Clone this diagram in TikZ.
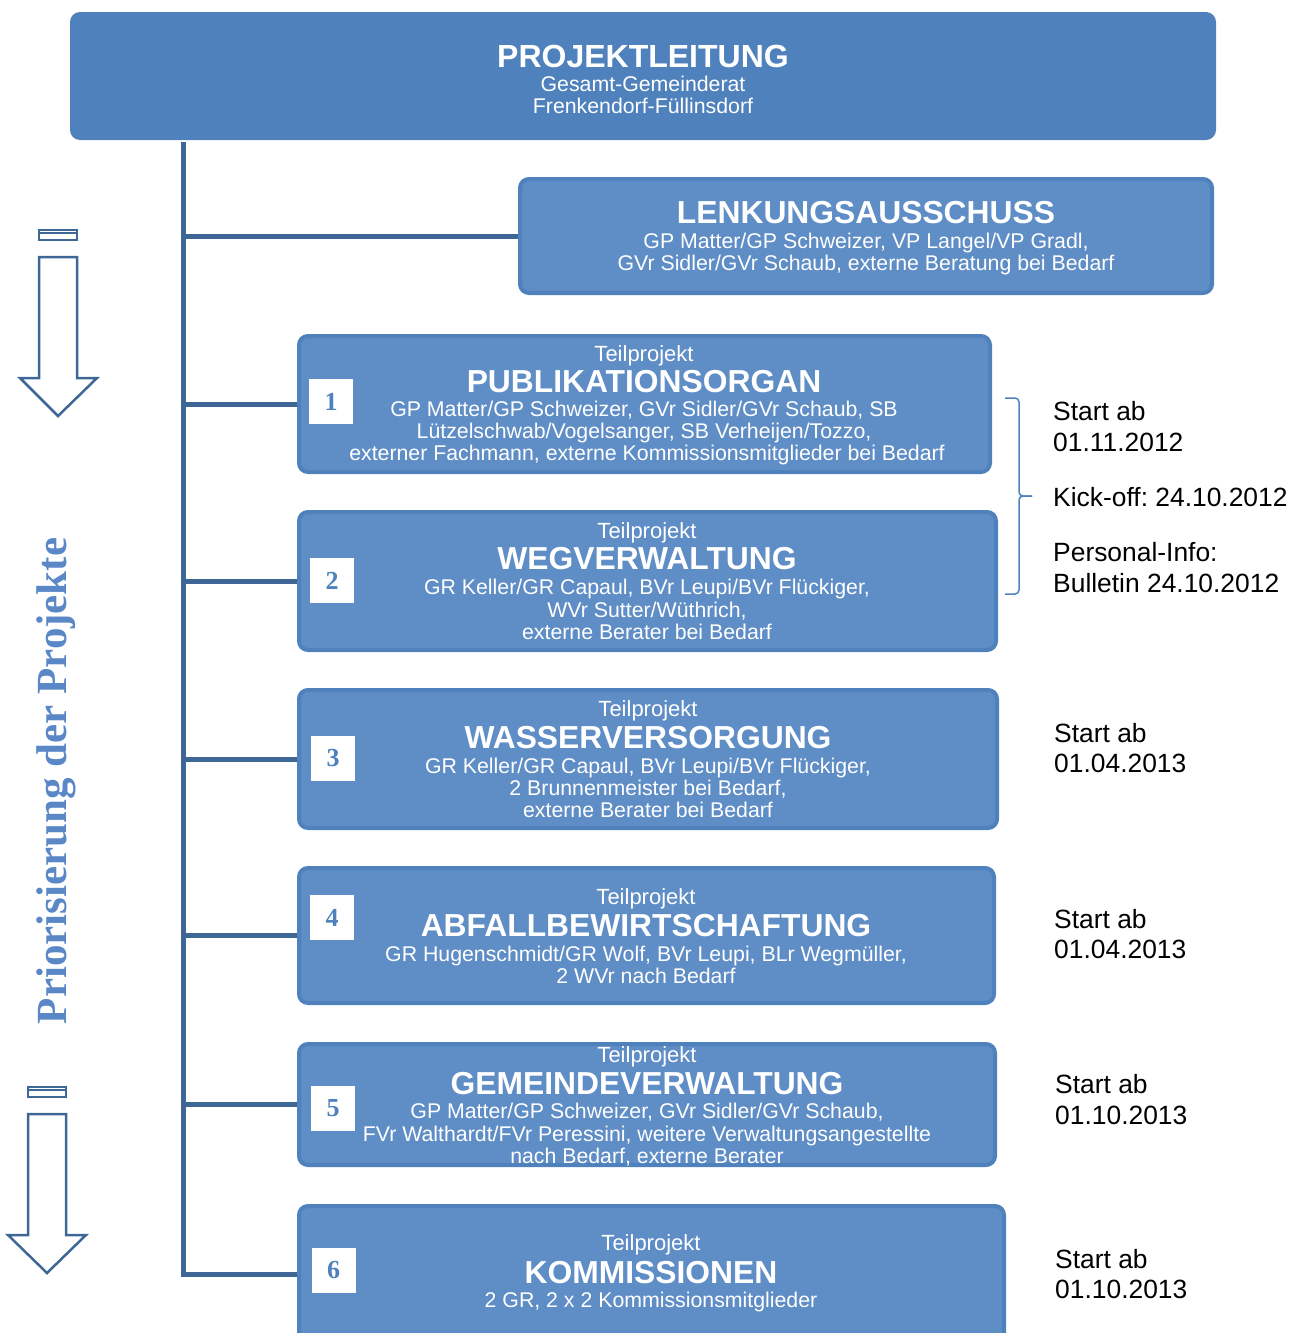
\documentclass[tikz,border=0pt]{standalone}
\usepackage{fontspec}
\setmainfont{Liberation Sans}
\newfontfamily\numfont{Liberation Serif}
\definecolor{plfill}{HTML}{4F81BD}
\definecolor{boxfill}{HTML}{5F8DC6}
\definecolor{boxedge}{HTML}{4F81BD}
\definecolor{trunkc}{HTML}{3E6797}
\definecolor{vtext}{HTML}{5A88C6}
\newcommand{\fsz}[1]{\fontsize{#1}{#1}\selectfont}
\frenchspacing
\begin{document}
\begin{tikzpicture}[x=1pt,y=-1pt,
  tbox/.style={draw=boxedge, line width=4pt, fill=boxfill, rounded corners=9pt, inner sep=0pt},
  plbox/.style={fill=plfill, rounded corners=10pt, inner sep=0pt},
  conn/.style={draw=trunkc, line width=5pt},
  wt/.style={text=white, inner sep=0pt, anchor=base},
  subt/.style={wt, font=\fsz{21.3}},
  tpj/.style={wt, font=\fsz{22}},
  ttl/.style={wt, font=\bfseries\fsz{31.8}},
  nbox/.style={fill=white, minimum width=44pt, minimum height=45pt, inner sep=0pt, text=plfill, font=\numfont\bfseries\fsz{26}},
  side/.style={anchor=base west, inner sep=0pt, font=\frenchspacing\fsz{26.4}},
  arr/.style={draw=trunkc, line width=2.5pt, line join=miter},
  brace/.style={draw=plfill, line width=1.5pt}
]
\useasboundingbox (0,0) rectangle (1291,1333);

% Boxes
\node[plbox, minimum width=1146pt, minimum height=128pt] (pl) at (643,76) {};
\node[tbox, minimum width=692pt, minimum height=114pt] (lk) at (866,236) {};
\node[tbox, minimum width=691pt, minimum height=136pt] (b1) at (644.5,404) {};
\node[tbox, minimum width=697pt, minimum height=138pt] (b2) at (647.5,581) {};
\node[tbox, minimum width=698pt, minimum height=138pt] (b3) at (648,759) {};
\node[tbox, minimum width=695pt, minimum height=135pt] (b4) at (646.5,935.5) {};
\node[tbox, minimum width=696pt, minimum height=121pt] (b5) at (647,1104.5) {};
\node[tbox, minimum width=705pt, minimum height=137pt] (b6) at (651.5,1274.5) {};

% Trunk and branches
\coordinate (ttop) at (183,142);
\draw[conn] (ttop) |- (b6.west);
\draw[conn] (ttop |- lk.west) -- (lk.west);
\draw[conn] (ttop |- b1.west) -- (b1.west);
\draw[conn] (ttop |- b2.west) -- (b2.west);
\draw[conn] (ttop |- b3.west) -- (b3.west);
\draw[conn] (ttop |- b4.west) -- (b4.west);
\draw[conn] (ttop |- b5.west) -- (b5.west);

% Texts: Projektleitung
\node[ttl, font=\bfseries\fsz{32}] (plt) at (643,67) {PROJEKTLEITUNG};
\node[subt] (pls1) at (643,91) {Gesamt-Gemeinderat};
\node[subt] (pls2) at (643,113) {Frenkendorf-Füllinsdorf};
% Lenkungsausschuss
\node[ttl] (lkt) at (866,223) {LENKUNGSAUSSCHUSS};
\node[subt] (lks1) at (866,248) {GP Matter/GP Schweizer, VP Langel/VP Gradl,};
\node[subt] (lks2) at (866,270) {GVr Sidler/GVr Schaub, externe Beratung bei Bedarf};
% Box 1
\node[tpj] (b1a) at (644,361) {Teilprojekt};
\node[ttl] (b1t) at (644,392) {PUBLIKATIONSORGAN};
\node[subt] (b1s1) at (644,416) {GP Matter/GP Schweizer, GVr Sidler/GVr Schaub, SB};
\node[subt] (b1s2) at (644,438) {Lützelschwab/Vogelsanger, SB Verheijen/Tozzo,};
\node[subt] (b1s3) at (647,460) {externer Fachmann, externe Kommissionsmitglieder bei Bedarf};
% Box 2
\node[tpj] (b2a) at (647,538) {Teilprojekt};
\node[ttl] (b2t) at (647,569) {WEGVERWALTUNG};
\node[subt] (b2s1) at (647,594) {GR Keller/GR Capaul, BVr Leupi/BVr Flückiger,};
\node[subt] (b2s2) at (647,617) {WVr Sutter/Wüthrich,};
\node[subt] (b2s3) at (647,639) {externe Berater bei Bedarf};
% Box 3
\node[tpj] (b3a) at (648,716) {Teilprojekt};
\node[ttl] (b3t) at (648,748) {WASSERVERSORGUNG};
\node[subt] (b3s1) at (648,773) {GR Keller/GR Capaul, BVr Leupi/BVr Flückiger,};
\node[subt] (b3s2) at (648,795) {2 Brunnenmeister bei Bedarf,};
\node[subt] (b3s3) at (648,817) {externe Berater bei Bedarf};
% Box 4
\node[tpj] (b4a) at (646,904) {Teilprojekt};
\node[ttl] (b4t) at (646,936) {ABFALLBEWIRTSCHAFTUNG};
\node[subt] (b4s1) at (646,961) {GR Hugenschmidt/GR Wolf, BVr Leupi, BLr Wegmüller,};
\node[subt] (b4s2) at (646,983) {2 WVr nach Bedarf};
% Box 5
\node[tpj] (b5a) at (647,1062) {Teilprojekt};
\node[ttl] (b5t) at (647,1094) {GEMEINDEVERWALTUNG};
\node[subt] (b5s1) at (647,1118) {GP Matter/GP Schweizer, GVr Sidler/GVr Schaub,};
\node[subt] (b5s2) at (647,1141) {FVr Walthardt/FVr Peressini, weitere Verwaltungsangestellte};
\node[subt] (b5s3) at (647,1163) {nach Bedarf, externe Berater};
% Box 6
\node[tpj] (b6a) at (651,1250) {Teilprojekt};
\node[ttl] (b6t) at (651,1283) {KOMMISSIONEN};
\node[subt] (b6s1) at (651,1307) {2 GR, 2 x 2 Kommissionsmitglieder};

% Number squares
\node[nbox] (n1) at (331,401.5) {1};
\node[nbox] (n2) at (332,580.5) {2};
\node[nbox] (n3) at (333,758) {3};
\node[nbox] (n4) at (332,917.5) {4};
\node[nbox] (n5) at (333,1108.5) {5};
\node[nbox] (n6) at (333.5,1270) {6};

% Brace
\draw[brace, rounded corners=4pt] (1005,398) -- (1019,398) -- (1019,496) -- (1032,496);
\draw[brace, rounded corners=4pt] (1032,496) -- (1019,496) -- (1019,594) -- (1005,594);

% Side texts
\node[side] (s1a) at (1053,420) {Start ab};
\node[side] (s1b) at (1053,451) {01.11.2012};
\node[side] (s1c) at (1053,506) {Kick-off: 24.10.2012};
\node[side] (s1d) at (1053,561) {Personal-Info:};
\node[side] (s1e) at (1053,592) {Bulletin 24.10.2012};
\node[side] (s3a) at (1054,742) {Start ab};
\node[side] (s3b) at (1054,772) {01.04.2013};
\node[side] (s4a) at (1054,928) {Start ab};
\node[side] (s4b) at (1054,958) {01.04.2013};
\node[side] (s5a) at (1055,1093) {Start ab};
\node[side] (s5b) at (1055,1124) {01.10.2013};
\node[side] (s6a) at (1055,1268) {Start ab};
\node[side] (s6b) at (1055,1298) {01.10.2013};

% Priority arrows
\draw[arr] (39,230) rectangle (77,240);
\draw[draw=trunkc, line width=2pt] (39,233) -- (77,233);
\draw[arr] (39,257) -- (77,257) -- (77,378) -- (97,378) -- (58,416) -- (20,378) -- (39,378) -- cycle;
\draw[arr] (28,1087) rectangle (66,1097);
\draw[draw=trunkc, line width=2pt] (28,1090) -- (66,1090);
\draw[arr] (28,1114) -- (66,1114) -- (66,1235) -- (86,1235) -- (47,1273) -- (8,1235) -- (28,1235) -- cycle;

% Vertical label
\node[rotate=90, inner sep=0pt, text=vtext, font=\numfont\bfseries\fsz{43}] (vl) at (56,781) {Priorisierung der Projekte};
\end{tikzpicture}
\end{document}
